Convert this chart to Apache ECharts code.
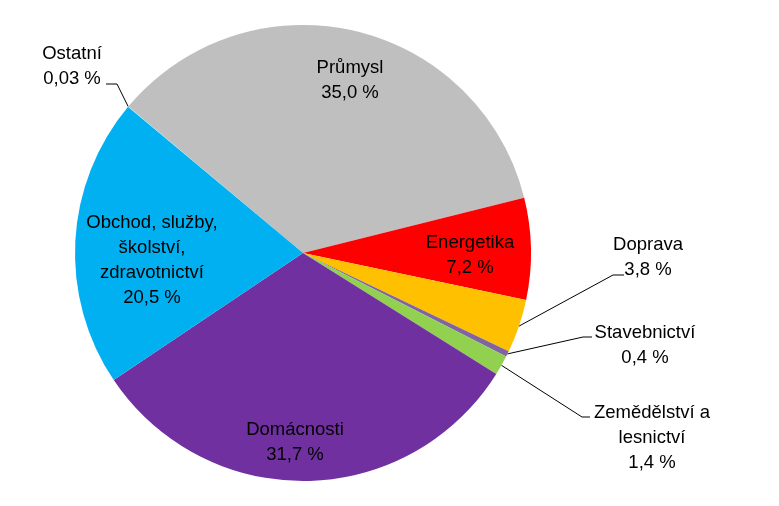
<!DOCTYPE html>
<html>
<head>
<meta charset="utf-8">
<script src="https://cdn.jsdelivr.net/npm/echarts@6/dist/echarts.min.js"></script>
<style>
  html, body { margin: 0; background: #fff; }
  #chart { width: 779px; height: 506px; }
</style>
</head>
<body>
<div id="chart"></div>
<script>
var sectors = ['Průmysl', 'Energetika', 'Doprava', 'Stavebnictví', 'Zemědělství a\nlesnictví',
               'Domácnosti', 'Obchod, služby,\nškolství,\nzdravotnictví', 'Ostatní'];
var shares = [35.0, 7.2, 3.8, 0.4, 1.4, 31.7, 20.5, 0.03];
var colors = ['#bfbfbf', '#ff0000', '#ffc000', '#8064a2', '#92d050', '#7030a0', '#00b0f0', '#c5e7f3'];
var outside = [false, false, true, true, true, false, false, true];

// label centres, and for the outside ones where the leader line bends (x, y, end x)
var labelSpots = [[350, 80], [470, 255], [648, 257], [645, 345], [652, 438], [295, 442], [152, 260], [72, 66]];
var elbows = [null, null, [613, 275, 624], [583, 337, 592], [582, 417, 590], null, null, [117, 84, 106]];

function fmt(v) {
    var s = v < 0.1 ? v.toFixed(2) : v.toFixed(1);
    return s.replace('.', ',') + ' %';
}

var chart = echarts.init(document.getElementById('chart'));

var data = sectors.map(function (name, i) {
    return {
        name: name,
        value: shares[i],
        itemStyle: { color: colors[i] },
        label: { position: outside[i] ? 'outside' : 'inside' },
        labelLine: { show: outside[i] }
    };
});

chart.setOption({
    animation: false,
    backgroundColor: '#fff',
    series: [{
        type: 'pie',
        center: [303, 253],
        radius: 228,
        startAngle: 140,
        clockwise: true,
        avoidLabelOverlap: false,
        itemStyle: { borderWidth: 0 },
        label: {
            show: true,
            color: '#000',
            fontFamily: 'Liberation Sans',
            fontSize: 18.5,
            lineHeight: 25,
            textBorderWidth: 0,
            formatter: function (p) {
                return p.name + '\n' + fmt(shares[p.dataIndex]);
            }
        },
        labelLine: {
            length: 10,
            length2: 10,
            lineStyle: { color: '#000', width: 1 }
        },
        labelLayout: function (p) {
            var i = p.dataIndex;
            var s = labelSpots[i];
            var res = { x: s[0], y: s[1], align: 'center', verticalAlign: 'middle' };
            var e = elbows[i];
            if (e && p.labelLinePoints) {
                res.labelLinePoints = [p.labelLinePoints[0], [e[0], e[1]], [e[2], e[1]]];
            }
            return res;
        },
        emphasis: { disabled: true },
        data: data
    }]
});
</script>
</body>
</html>
